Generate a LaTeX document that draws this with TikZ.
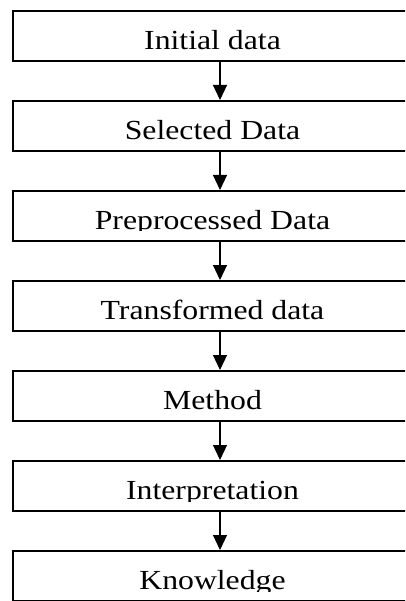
\documentclass[tikz,border=0pt]{standalone}
\usepackage{fontspec}
\setmainfont{Liberation Serif}[FakeStretch=1.15]
\usetikzlibrary{arrows.meta}
\tikzset{
  stagebox/.style={draw, line width=1.8pt, minimum width=401pt, minimum height=50pt, inner sep=0pt, anchor=north west},
  stagetext/.style={inner sep=0pt, anchor=base, font=\fontsize{27.6pt}{30pt}\selectfont},
  flowarrow/.style={line width=1.1pt, -{Triangle[width=14pt,length=15pt]}}
}
\begin{document}
\begin{tikzpicture}[x=1pt,y=-1pt]
\useasboundingbox (0,0) rectangle (405,601);
\clip (0,0) rectangle (405,601);
\coordinate (ax) at (220,0);
\foreach \i/\t/\txt in {1/10/Initial data,2/100/Selected Data,3/190/Preprocessed Data,4/280/Transformed data,5/370/Method,6/460/Interpretation,7/550/Knowledge}{
  \node[stagebox] (b\i) at (12,\t) {};
  \begin{scope}
    \clip (0,\t) rectangle (405,\t+41);
    \node[stagetext] (t\i) at (212.5,\t+39.5) {\txt};
  \end{scope}
}
\foreach \i/\j in {1/2,2/3,3/4,4/5,5/6,6/7}{
  \draw[flowarrow] (b\i.south -| ax) -- (b\j.north -| ax);
}
\end{tikzpicture}
\end{document}
